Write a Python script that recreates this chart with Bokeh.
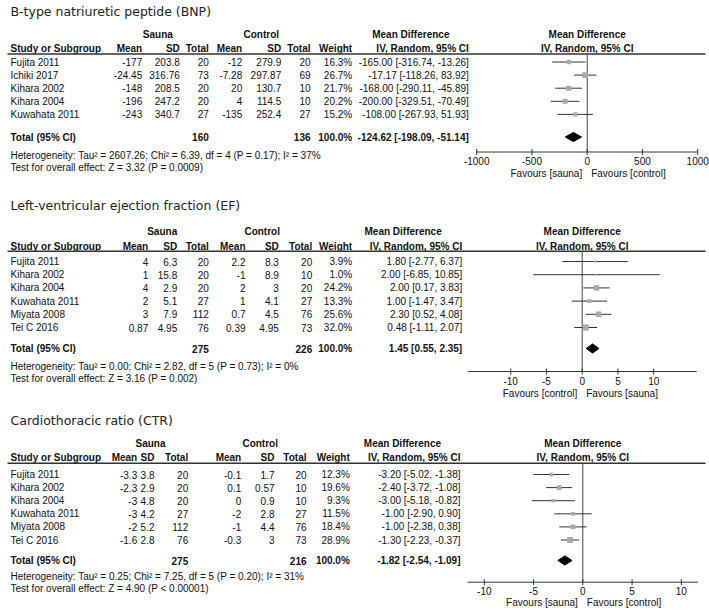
from bokeh.plotting import figure
from bokeh.models import Range1d
from bokeh.embed import file_html
from bokeh.resources import INLINE
from bokeh.core.properties import value

# ---------------- data ----------------
bnp_title = "B-type natriuretic peptide (BNP)"
bnp_studies = ["Fujita 2011", "Ichiki 2017", "Kihara 2002", "Kihara 2004", "Kuwahata 2011"]
bnp_s_mean = [-177, -24.45, -148, -196, -243]
bnp_s_sd = [203.8, 316.76, 208.5, 247.2, 340.7]
bnp_s_n = [20, 73, 20, 20, 27]
bnp_c_mean = [-12, -7.28, 20, 4, -135]
bnp_c_sd = [279.9, 297.87, 130.7, 114.5, 252.4]
bnp_c_n = [20, 69, 10, 10, 27]
bnp_weight = [16.3, 26.7, 21.7, 20.2, 15.2]
bnp_md = [-165.00, -17.17, -168.00, -200.00, -108.00]
bnp_lo = [-316.74, -118.26, -290.11, -329.51, -267.93]
bnp_hi = [-13.26, 83.92, -45.89, -70.49, 51.93]
bnp_total = [160, 136, -124.62, -198.09, -51.14]
bnp_het = "Heterogeneity: Tau\u00b2 = 2607.26; Chi\u00b2 = 6.39, df = 4 (P = 0.17); I\u00b2 = 37%"
bnp_test = "Test for overall effect: Z = 3.32 (P = 0.0009)"
bnp_ticks = [-1000, -500, 0, 500, 1000]
bnp_fav = ["Favours [sauna]", "Favours [control]"]

ef_title = "Left-ventricular ejection fraction (EF)"
ef_studies = ["Fujita 2011", "Kihara 2002", "Kihara 2004", "Kuwahata 2011", "Miyata 2008", "Tei C 2016"]
ef_s_mean = [4, 1, 4, 2, 3, 0.87]
ef_s_sd = [6.3, 15.8, 2.9, 5.1, 7.9, 4.95]
ef_s_n = [20, 20, 20, 27, 112, 76]
ef_c_mean = [2.2, -1, 2, 1, 0.7, 0.39]
ef_c_sd = [8.3, 8.9, 3, 4.1, 4.5, 4.95]
ef_c_n = [20, 10, 20, 27, 76, 73]
ef_weight = [3.9, 1.0, 24.2, 13.3, 25.6, 32.0]
ef_md = [1.80, 2.00, 2.00, 1.00, 2.30, 0.48]
ef_lo = [-2.77, -6.85, 0.17, -1.47, 0.52, -1.11]
ef_hi = [6.37, 10.85, 3.83, 3.47, 4.08, 2.07]
ef_total = [275, 226, 1.45, 0.55, 2.35]
ef_het = "Heterogeneity: Tau\u00b2 = 0.00; Chi\u00b2 = 2.82, df = 5 (P = 0.73); I\u00b2 = 0%"
ef_test = "Test for overall effect: Z = 3.16 (P = 0.002)"
ef_ticks = [-10, -5, 0, 5, 10]
ef_fav = ["Favours [control]", "Favours [sauna]"]

ctr_title = "Cardiothoracic ratio (CTR)"
ctr_studies = ["Fujita 2011", "Kihara 2002", "Kihara 2004", "Kuwahata 2011", "Miyata 2008", "Tei C 2016"]
ctr_s_mean = [-3.3, -2.3, -3, -3, -2, -1.6]
ctr_s_sd = [3.8, 2.9, 4.8, 4.2, 5.2, 2.8]
ctr_s_n = [20, 20, 20, 27, 112, 76]
ctr_c_mean = [-0.1, 0.1, 0, -2, -1, -0.3]
ctr_c_sd = [1.7, 0.57, 0.9, 2.8, 4.4, 3]
ctr_c_n = [20, 10, 10, 27, 76, 73]
ctr_weight = [12.3, 19.6, 9.3, 11.5, 18.4, 28.9]
ctr_md = [-3.20, -2.40, -3.00, -1.00, -1.00, -1.30]
ctr_lo = [-5.02, -3.72, -5.18, -2.90, -2.38, -2.23]
ctr_hi = [-1.38, -1.08, -0.82, 0.90, 0.38, -0.37]
ctr_total = [275, 216, -1.82, -2.54, -1.09]
ctr_het = "Heterogeneity: Tau\u00b2 = 0.25; Chi\u00b2 = 7.25, df = 5 (P = 0.20); I\u00b2 = 31%"
ctr_test = "Test for overall effect: Z = 4.90 (P < 0.00001)"
ctr_ticks = [-10, -5, 0, 5, 10]
ctr_fav = ["Favours [sauna]", "Favours [control]"]

# ---------------- layout ----------------
W, H = 709, 611
X0, Y0 = 0, 0
TXT = "#111111"
FONT = "Liberation Sans"

p = figure(width=W, height=H, x_range=Range1d(X0, X0 + W), y_range=Range1d(Y0 + H, Y0),
           output_backend="svg", toolbar_location=None, min_border=0,
           x_axis_location=None, y_axis_location=None)
p.grid.visible = False
p.outline_line_color = None
p.background_fill_color = "white"


def texts(xs, ys, strs, align="left", bold=False, size="10px", font=FONT, color=TXT,
          rng=None, x_offset=0):
    kw = {}
    if rng:
        kw["x_range_name"] = rng
    p.text(x=xs, y=ys, text=strs, text_align=align, text_baseline="middle",
           text_font=value(font), text_font_size=size,
           text_font_style="bold" if bold else "normal", text_color=color,
           x_offset=x_offset, **kw)


def panel(name, title, studies, smean, ssd, sn, cmean, csd, cn, weight, md, lo, hi, total,
          het, test, ticks, fav, L):
    zero, k = L["zero"], L["k"]
    p.extra_x_ranges[name] = Range1d((X0 - zero) / k, (X0 + W - zero) / k)
    n = len(studies)
    ys = [L["row0"] + i * L["step"] for i in range(n)]
    fs = L["fs"]
    texts([10], [L["title_y"]], [title], size=L["tfs"], font="DejaVu Sans", color="#222222")
    texts([L["sauna_c"], L["control_c"]], [L["grp_y"]] * 2, ["Sauna", "Control"],
          align="center", bold=True, size=fs)
    texts([10], [L["hdr_y"]], ["Study or Subgroup"], bold=True, size=fs)
    cols = ["mean", "sd", "tot", "cmean", "csd", "ctot", "w"]
    labels = ["Mean", "SD", "Total", "Mean", "SD", "Total", "Weight"]
    texts([L[c] for c in cols], [L["hdr_y"]] * 7, labels, align="right", bold=True, size=fs)
    texts([L["mdh_x"]], [L["grp_y"]], ["Mean Difference"], align="left", bold=True, size=fs)
    texts([L["md"]], [L["hdr_y"]], ["IV, Random, 95% CI"], align="right", bold=True, size=fs)
    texts([0, 0], [L["grp_y"], L["hdr_y"]], ["Mean Difference", "IV, Random, 95% CI"],
          align="center", bold=True, size=fs, rng=name)
    p.segment(x0=[7], x1=[705], y0=[L["line_y"]], y1=[L["line_y"]],
              line_color="#333333", line_width=1.4)
    # study rows
    texts([10] * n, ys, studies, size=fs)
    for c, vals in zip(cols[:6], [smean, ssd, sn, cmean, csd, cn]):
        texts([L[c]] * n, ys, [str(v) for v in vals], align="right", size=fs)
    texts([L["w"]] * n, ys, ["%.1f%%" % w for w in weight], align="right", size=fs)
    texts([L["md"]] * n, ys, ["%.2f [%.2f, %.2f]" % t for t in zip(md, lo, hi)],
          align="right", size=fs)
    # total row
    ty = L["tot_y"]
    texts([10], [ty], ["Total (95% CI)"], bold=True, size=fs)
    texts([L["tot"], L["ctot"], L["w"]], [ty] * 3, [str(total[0]), str(total[1]), "100.0%"],
          align="right", bold=True, size=fs)
    texts([L["md"]], [ty], ["%.2f [%.2f, %.2f]" % tuple(total[2:])], align="right",
          bold=True, size=fs)
    texts([10, 10], [L["het_y"], L["test_y"]], [het, test], size=fs)
    # forest
    ay = L["axis_y"]
    p.segment(x0=[0], x1=[0], y0=[L["line_y"]], y1=[ay], line_color="#444444",
              line_width=1, x_range_name=name)
    p.segment(x0=lo, x1=hi, y0=ys, y1=ys, line_color="#333333", line_width=1,
              x_range_name=name)
    sizes = [max(1.8, 1.1 * w ** 0.5) for w in weight]
    p.scatter(x=md, y=ys, size=sizes, marker="square", fill_color="#aaaaaa",
              line_color=None, x_range_name=name)
    dh = 4.6
    p.patch(x=[total[3], total[2], total[4], total[2]], y=[ty, ty - dh, ty, ty + dh],
            fill_color="black", line_color="black", x_range_name=name)
    p.segment(x0=[L["ax_lo"]], x1=[L["ax_hi"]], y0=[ay], y1=[ay], line_color="#333333",
              line_width=1, x_range_name=name)
    p.segment(x0=ticks, x1=ticks, y0=[ay - 3] * len(ticks), y1=[ay + 3] * len(ticks),
              line_color="#333333", line_width=1, x_range_name=name)
    texts(ticks, [L["tick_y"]] * len(ticks), [str(t) for t in ticks], align="center",
          size=fs, rng=name)
    texts([0], [L["fav_y"]], [fav[0]], align="right", size=fs, rng=name, x_offset=-5)
    texts([0], [L["fav_y"]], [fav[1]], align="left", size=fs, rng=name, x_offset=4)


panel("bnp", bnp_title, bnp_studies, bnp_s_mean, bnp_s_sd, bnp_s_n, bnp_c_mean, bnp_c_sd,
      bnp_c_n, bnp_weight, bnp_md, bnp_lo, bnp_hi, bnp_total, bnp_het, bnp_test, bnp_ticks,
      bnp_fav,
      dict(zero=586.7, k=0.1105, ax_lo=-1000, ax_hi=1000, fs="10px", tfs="12.5px",
           title_y=11, grp_y=34.3, hdr_y=48.3, line_y=53.5, row0=61.5, step=13.1,
           tot_y=136.5, het_y=155, test_y=166.5, axis_y=151.5, tick_y=160.5, fav_y=172.5,
           mean=141.7, sd=179.3, tot=208.3, cmean=241.7, csd=280.7, ctot=310, w=351.7,
           md=468.3, sauna_c=157.3, control_c=260.8, mdh_x=371.7))

panel("ef", ef_title, ef_studies, ef_s_mean, ef_s_sd, ef_s_n, ef_c_mean, ef_c_sd, ef_c_n,
      ef_weight, ef_md, ef_lo, ef_hi, ef_total, ef_het, ef_test, ef_ticks, ef_fav,
      dict(zero=581.7, k=7.15, ax_lo=-16, ax_hi=16, fs="10px", tfs="12.5px",
           title_y=205, grp_y=231, hdr_y=245.5, line_y=250.7, row0=261, step=13.2,
           tot_y=348, het_y=366, test_y=378, axis_y=371, tick_y=380.7, fav_y=392.5,
           mean=147.7, sd=176.7, tot=208.3, cmean=245, csd=278.3, ctot=311.7, w=351.7,
           md=461.7, sauna_c=161.7, control_c=261.7, mdh_x=364))

panel("ctr", ctr_title, ctr_studies, ctr_s_mean, ctr_s_sd, ctr_s_n, ctr_c_mean, ctr_c_sd,
      ctr_c_n, ctr_weight, ctr_md, ctr_lo, ctr_hi, ctr_total, ctr_het, ctr_test, ctr_ticks,
      ctr_fav,
      dict(zero=582.3, k=9.85, ax_lo=-11.7, ax_hi=11.7, fs="10px", tfs="12.5px",
           title_y=420, grp_y=442.7, hdr_y=457.3, line_y=462.7, row0=474, step=13.1,
           tot_y=560, het_y=576, test_y=588, axis_y=581.7, tick_y=590.5, fav_y=601.5,
           mean=136.7, sd=154, tot=187.7, cmean=240.7, csd=274, ctot=306, w=349.3,
           md=460, sauna_c=150, control_c=259.7, mdh_x=363.3))

open("out.html", "w").write(file_html(p, INLINE))
